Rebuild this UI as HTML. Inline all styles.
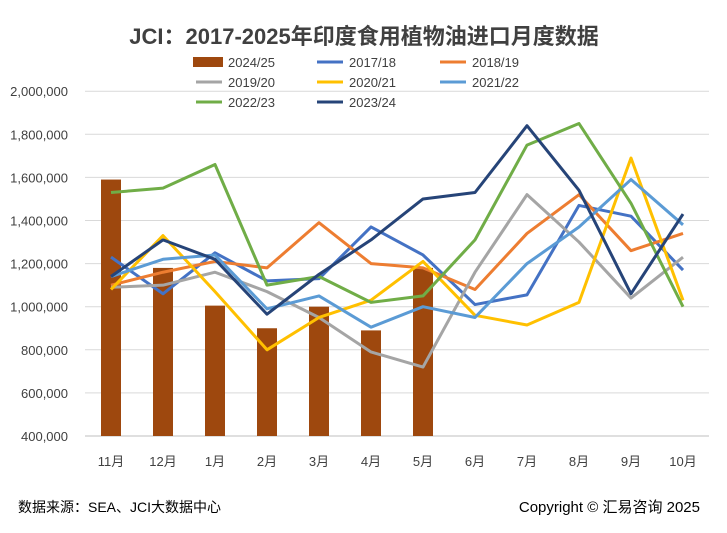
<!DOCTYPE html>
<html><head><meta charset="utf-8"><style>
body{margin:0;background:#fff;width:727px;height:528px;overflow:hidden;font-family:"Liberation Sans","Noto Sans CJK SC",sans-serif}
</style></head><body>
<svg id="s" width="727" height="528" xmlns="http://www.w3.org/2000/svg" font-family="Liberation Sans, Noto Sans CJK SC, sans-serif">
<rect width="727" height="528" fill="#fff"/>
<text x="364" y="44" text-anchor="middle" font-size="22" font-weight="bold" fill="#404040">JCI：2017-2025年印度食用植物油进口月度数据</text>
<g id="grid" stroke="#d9d9d9" stroke-width="1"></g>
<g id="ylab" font-size="13" fill="#404040" text-anchor="end"></g>
<g id="bars" fill="#9e480e"></g>
<g id="lines" fill="none" stroke-width="3" stroke-linejoin="round"></g>
<g id="xlab" font-size="13" fill="#404040" text-anchor="middle"></g>
<g font-size="13" fill="#404040">
<rect x="193" y="57" width="30" height="10" fill="#9e480e"/><text x="228" y="67">2024/25</text>
<line x1="317" y1="62" x2="343" y2="62" stroke="#4472c4" stroke-width="3"/><text x="349" y="67">2017/18</text>
<line x1="440" y1="62" x2="466" y2="62" stroke="#ed7d31" stroke-width="3"/><text x="472" y="67">2018/19</text>
<line x1="196" y1="82" x2="222" y2="82" stroke="#a5a5a5" stroke-width="3"/><text x="228" y="87">2019/20</text>
<line x1="317" y1="82" x2="343" y2="82" stroke="#ffc000" stroke-width="3"/><text x="349" y="87">2020/21</text>
<line x1="440" y1="82" x2="466" y2="82" stroke="#5b9bd5" stroke-width="3"/><text x="472" y="87">2021/22</text>
<line x1="196" y1="102" x2="222" y2="102" stroke="#70ad47" stroke-width="3"/><text x="228" y="107">2022/23</text>
<line x1="317" y1="102" x2="343" y2="102" stroke="#264478" stroke-width="3"/><text x="349" y="107">2023/24</text>
</g>
<text x="18" y="512" font-size="14" fill="#000">数据来源：SEA、JCI大数据中心</text>
<text x="700" y="512" font-size="15" fill="#000" text-anchor="end">Copyright © 汇易咨询 2025</text>
</svg>
<script>
var NS="http://www.w3.org/2000/svg";
function Y(v){return 436-(v-400)*0.2155;}
function X(i){return 111+i*52;}
function el(p,t,a,txt){var e=document.createElementNS(NS,t);for(var k in a)e.setAttribute(k,a[k]);if(txt)e.textContent=txt;document.getElementById(p).appendChild(e);}
for(var v=400;v<=2000;v+=200){el("grid","line",{x1:85,x2:709,y1:Y(v),y2:Y(v),stroke:v==400?"#bfbfbf":"#d9d9d9"});
el("ylab","text",{x:68,y:Y(v)+5},(v*1000).toLocaleString("en-US"));}
var m=["11月","12月","1月","2月","3月","4月","5月","6月","7月","8月","9月","10月"];
m.forEach(function(t,i){el("xlab","text",{x:X(i),y:466},t);});
[1590,1180,1005,900,1000,890,1180].forEach(function(v,i){el("bars","rect",{x:X(i)-10,y:Y(v),width:20,height:436-Y(v)});});
var S=[["#4472c4",[1230,1060,1250,1120,1130,1370,1240,1010,1055,1470,1420,1170]],
["#ed7d31",[1100,1160,1210,1180,1390,1200,1180,1080,1340,1520,1260,1340]],
["#a5a5a5",[1090,1100,1160,1070,950,790,720,1160,1520,1300,1040,1230]],
["#ffc000",[1080,1330,1070,800,950,1030,1210,960,915,1020,1690,1030]],
["#5b9bd5",[1140,1220,1240,990,1050,905,1000,950,1200,1370,1590,1380]],
["#70ad47",[1530,1550,1660,1100,1140,1020,1050,1310,1750,1850,1480,1000]],
["#264478",[1140,1310,1220,965,1150,1310,1500,1530,1840,1540,1060,1430]]];
S.forEach(function(s){el("lines","polyline",{stroke:s[0],points:s[1].map(function(v,i){return X(i)+","+Y(v);}).join(" ")});});
</script>
</body></html>
